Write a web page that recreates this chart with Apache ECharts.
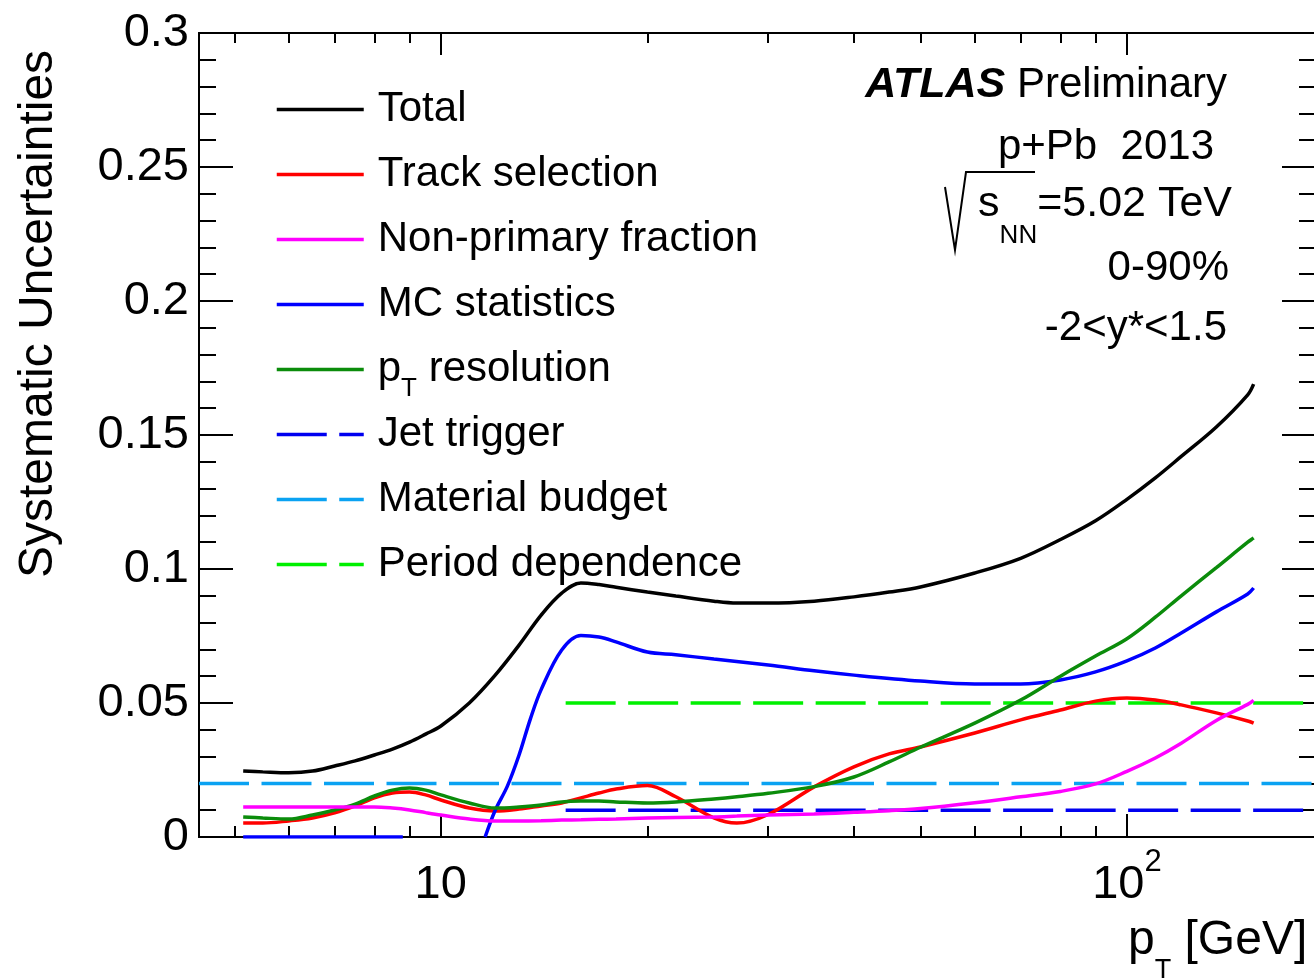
<!DOCTYPE html>
<html>
<head>
<meta charset="utf-8">
<title>Systematic Uncertainties</title>
<script src="https://cdn.jsdelivr.net/npm/echarts@6/dist/echarts.min.js"></script>
<style>
  html, body { margin: 0; padding: 0; background: #fff; }
  #chart { width: 1314px; height: 978px; }
</style>
</head>
<body>
<div id="chart"></div>
<script>
// pT points (GeV) the curves were read at
var ptBins = [5.15, 5.5, 6, 6.5, 7, 7.5, 8, 8.5, 9, 9.5,
  10, 11, 12, 13, 14, 15, 16, 17, 18, 20,
  22, 25, 27, 30, 35, 40, 45, 50, 60, 70,
  80, 90, 100, 110, 120, 135, 150, 153]

var total = [0.0246, 0.0243, 0.0240, 0.0246, 0.0265, 0.0284, 0.0306, 0.0328, 0.0354, 0.0384,
  0.0414, 0.0500, 0.0604, 0.0716, 0.0828, 0.0910, 0.0948, 0.0942, 0.0932, 0.0914,
  0.0899, 0.0880, 0.0873, 0.0873, 0.0880, 0.0896, 0.0914, 0.0933, 0.0985, 0.1040,
  0.1110, 0.1180, 0.1260, 0.1340, 0.1420, 0.1530, 0.1650, 0.1690]

var trackSel = [0.0052, 0.0052, 0.0060, 0.0071, 0.0090, 0.0116, 0.0146, 0.0164, 0.0168, 0.0157,
  0.0138, 0.0108, 0.0097, 0.0104, 0.0116, 0.0127, 0.0146, 0.0164, 0.0179, 0.0192,
  0.0150, 0.0071, 0.0052, 0.0084, 0.0187, 0.0262, 0.0310, 0.0336, 0.0388, 0.0437,
  0.0474, 0.0507, 0.0519, 0.0511, 0.0493, 0.0463, 0.0433, 0.0425]

var nonPrimary = [0.0112, 0.0112, 0.0112, 0.0112, 0.0112, 0.0112, 0.0112, 0.0108, 0.0101, 0.0091,
  0.0082, 0.0067, 0.0060, 0.0060, 0.0061, 0.0063, 0.0064, 0.0066, 0.0067, 0.0071,
  0.0073, 0.0075, 0.0078, 0.0082, 0.0086, 0.0092, 0.0098, 0.0106, 0.0128, 0.0150,
  0.0170, 0.0198, 0.0245, 0.0295, 0.0350, 0.0435, 0.0495, 0.0510]

var ptRes = [0.0075, 0.0071, 0.0067, 0.0082, 0.0101, 0.0123, 0.0153, 0.0175, 0.0183, 0.0175,
  0.0157, 0.0127, 0.0108, 0.0112, 0.0119, 0.0131, 0.0134, 0.0134, 0.0131, 0.0127,
  0.0131, 0.0142, 0.0150, 0.0163, 0.0188, 0.0224, 0.0280, 0.0335, 0.0425, 0.0511,
  0.0600, 0.0675, 0.0740, 0.0820, 0.0900, 0.1005, 0.1100, 0.1116]

// MC statistics has its own points: zero at low pT, a gap, then the rise
var mcPt = [5.15, 8.8, 9, 11.6, 12, 12.5, 13, 13.5, 14, 15,
  16, 17, 18, 20, 22, 25, 30, 35, 40, 50,
  60, 70, 80, 90, 100, 110, 120, 135, 150, 153]
var mcStat = [0, 0, null, 0, 0.0100, 0.0190, 0.0306, 0.0440, 0.0550, 0.0698,
  0.0752, 0.0746, 0.0728, 0.0690, 0.0680, 0.0664, 0.0642, 0.0620, 0.0604, 0.0582,
  0.0571, 0.0571, 0.0586, 0.0616, 0.0657, 0.0705, 0.0761, 0.0840, 0.0907, 0.0929]

// flat contributions
var jetPt = [15.2, 188]
var jetTrig = [0.01, 0.01]
var matPt = [4.44, 188]
var matBudget = [0.02, 0.02]
var periodPt = [15.2, 188]
var periodDep = [0.05, 0.05]

// axis ticks
var xMajorTicks = [10, 100]
var xMinorTicks = [5, 6, 7, 8, 9, 20, 30, 40, 50, 60, 70, 80, 90]

var FONT = 'Liberation Sans'

function pairs (xs, ys) {
  return xs.map(function (x, i) {
    return [x, ys[i] === null ? '-' : ys[i]]
  })
}

function curve (name, xs, ys, color, dashed) {
  var s = {
    name: name,
    type: 'line',
    data: pairs(xs, ys),
    symbol: 'none',
    smooth: dashed ? false : 0.35,
    connectNulls: false,
    lineStyle: { color: color, width: 3.5 },
    itemStyle: { color: color },
    z: 3
  }
  if (dashed) {
    s.lineStyle.type = [50, 12.5]
    s.z = 2
  }
  return s
}

var axisLine = { show: true, lineStyle: { color: '#000', width: 2 } }
var tickStyle = { color: '#000', width: 2 }

function xAx (pos, tickLen, ticks, withLabels) {
  return {
    type: 'log',
    logBase: 10,
    min: 4.44,
    max: 188,
    position: pos,
    axisLine: axisLine,
    axisTick: { show: true, inside: true, length: tickLen, customValues: ticks, lineStyle: tickStyle },
    axisLabel: withLabels ? {
      show: true,
      customValues: xMajorTicks,
      margin: 10,
      formatter: function (v) {
        var p = Math.round(Math.log(v) / Math.LN10)
        return p === 1 ? '{b|10}{e| }' : '{b|10}{s|' + p + '}'
      },
      rich: {
        b: { fontSize: 47, lineHeight: 76, fontFamily: FONT, color: '#000' },
        s: { fontSize: 31, lineHeight: 20, fontFamily: FONT, color: '#000', verticalAlign: 'top' },
        e: { fontSize: 1, lineHeight: 20, fontFamily: FONT, verticalAlign: 'top' }
      }
    } : { show: false },
    splitLine: { show: false },
    minorTick: { show: false }
  }
}

function yAx (pos, major, minor, withLabels) {
  return {
    type: 'value',
    min: 0,
    max: 0.3,
    interval: 0.05,
    position: pos,
    axisLine: axisLine,
    axisTick: { show: true, inside: true, length: major, lineStyle: tickStyle },
    minorTick: { show: true, splitNumber: 5, length: minor, lineStyle: tickStyle },
    axisLabel: withLabels ? { show: true, fontSize: 47, color: '#000', fontFamily: FONT, margin: 10 } : { show: false },
    splitLine: { show: false }
  }
}

var chart = echarts.init(document.getElementById('chart'))

var option = {
  animation: false,
  backgroundColor: '#fff',
  textStyle: { fontFamily: FONT, color: '#000' },
  grid: { left: 199, top: 33, right: -1, bottom: 141, containLabel: false, outerBoundsMode: 'none' },
  xAxis: [
    xAx('bottom', 23, xMajorTicks, true),
    xAx('bottom', 11, xMinorTicks, false),
    xAx('top', 22, xMajorTicks, false),
    xAx('top', 10, xMinorTicks, false)
  ],
  yAxis: [
    yAx('left', 34, 17, true),
    yAx('right', 33, 16, false)
  ],
  legend: {
    orient: 'vertical',
    left: 275,
    top: 77,
    padding: 0,
    itemWidth: 87,
    itemHeight: 14,
    itemGap: 0,
    selectedMode: false,
    itemStyle: { opacity: 0 },
    lineStyle: { width: 3.5 },
    data: ['Total', 'Track selection', 'Non-primary fraction', 'MC statistics',
      'pT resolution', 'Jet trigger', 'Material budget', 'Period dependence'],
    formatter: function (name) {
      if (name === 'pT resolution') return '{m|p}{s|T}{m| resolution}'
      return '{m|' + name + '}'
    },
    textStyle: {
      fontSize: 42,
      lineHeight: 65,
      color: '#000',
      fontFamily: FONT,
      padding: [0, 0, 0, 9],
      rich: {
        m: { fontSize: 42, lineHeight: 65, fontFamily: FONT, color: '#000' },
        s: { fontSize: 26, lineHeight: 4, fontFamily: FONT, color: '#000', verticalAlign: 'bottom' }
      }
    }
  },
  series: [
    curve('Jet trigger', jetPt, jetTrig, '#0000f0', true),
    curve('Material budget', matPt, matBudget, '#0aa2f2', true),
    curve('Period dependence', periodPt, periodDep, '#00f000', true),
    curve('Total', ptBins, total, '#000000'),
    curve('Track selection', ptBins, trackSel, '#ff0000'),
    curve('MC statistics', mcPt, mcStat, '#0000ff'),
    curve('pT resolution', ptBins, ptRes, '#0b8c0b'),
    curve('Non-primary fraction', ptBins, nonPrimary, '#ff00ff')
  ],
  graphic: [
    {
      type: 'text',
      x: 39,
      y: 314,
      rotation: Math.PI / 2,
      style: { text: 'Systematic Uncertainties', fontSize: 48, fontFamily: FONT, fill: '#000', align: 'center', verticalAlign: 'middle' }
    },
    {
      type: 'text',
      style: {
        text: '{m|p}{s|T}{m| [GeV]}',
        x: 1128,
        y: 941,
        align: 'left',
        verticalAlign: 'middle',
        rich: {
          m: { fontSize: 48, lineHeight: 86, fontFamily: FONT, fill: '#000' },
          s: { fontSize: 27, lineHeight: 14, fontFamily: FONT, fill: '#000', verticalAlign: 'bottom' }
        }
      }
    },
    {
      type: 'text',
      style: {
        text: '{b|ATLAS}{r| Preliminary}',
        x: 1227,
        y: 85,
        align: 'right',
        verticalAlign: 'middle',
        rich: {
          b: { fontSize: 43, fontWeight: 'bold', fontStyle: 'italic', fontFamily: FONT, fill: '#000' },
          r: { fontSize: 42, fontFamily: FONT, fill: '#000' }
        }
      }
    },
    {
      type: 'text',
      style: { text: 'p+Pb  2013', x: 1214, y: 147, align: 'right', verticalAlign: 'middle', fontSize: 42, fontFamily: FONT, fill: '#000' }
    },
    {
      type: 'text',
      style: {
        text: '{m|s}{s|NN}{m|=5.02 TeV}',
        x: 1232,
        y: 204,
        align: 'right',
        verticalAlign: 'middle',
        rich: {
          m: { fontSize: 43, lineHeight: 90, fontFamily: FONT, fill: '#000' },
          s: { fontSize: 26, lineHeight: 14, fontFamily: FONT, fill: '#000', verticalAlign: 'bottom' }
        }
      }
    },
    {
      // the root sign over s_NN
      type: 'polyline',
      shape: { points: [[945, 187], [955, 250], [966, 172], [1035, 172]] },
      style: { stroke: '#000', lineWidth: 2, fill: null }
    },
    {
      type: 'text',
      style: { text: '0-90%', x: 1229, y: 268, align: 'right', verticalAlign: 'middle', fontSize: 42, fontFamily: FONT, fill: '#000' }
    },
    {
      type: 'text',
      style: { text: '-2<y*<1.5', x: 1227, y: 328, align: 'right', verticalAlign: 'middle', fontSize: 42, fontFamily: FONT, fill: '#000' }
    }
  ]
}

chart.setOption(option)
</script>
</body>
</html>
